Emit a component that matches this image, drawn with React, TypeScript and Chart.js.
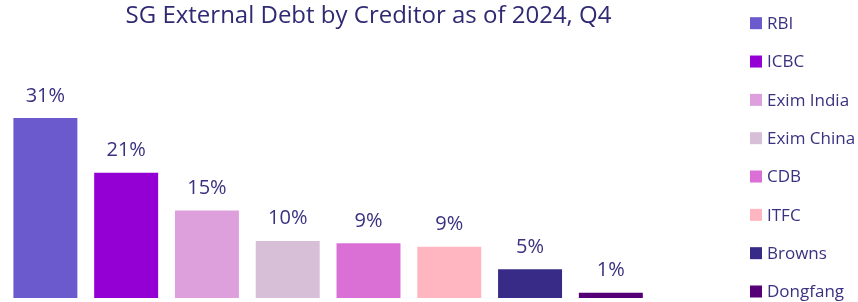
import React, { useEffect, useRef } from "react";
import { Chart, registerables } from "chart.js";

Chart.register(...registerables);

const TITLE = "SG External Debt by Creditor as of 2024, Q4";
const creditors = ["RBI", "ICBC", "Exim India", "Exim China", "CDB", "ITFC", "Browns", "Dongfang"];
const shares = [30.6, 21.3, 14.9, 9.7, 9.3, 8.7, 4.9, 0.9];
const barColors = ["#6a5acd", "#9400d3", "#dda0dd", "#d8bfd8", "#da70d6", "#ffb6c1", "#382b87", "#560078"];
// x-axis slots: the creditors plus one empty spacer slot on the right
const axisSlots = [...creditors, ""];

const FONT = "'Open Sans', 'Noto Sans', sans-serif";
const TEXT_COLOR = "#3a3180";

const valueLabels = {
  id: "valueLabels",
  afterDatasetsDraw(chart: any) {
    const ctx = chart.ctx;
    const meta = chart.getDatasetMeta(0);
    const data = chart.data.datasets[0].data as number[];
    ctx.save();
    ctx.font = `20px ${FONT}`;
    ctx.fillStyle = TEXT_COLOR;
    ctx.textAlign = "center";
    ctx.textBaseline = "alphabetic";
    meta.data.forEach((bar: any, i: number) => {
      ctx.fillText(`${Math.round(data[i])}%`, bar.x, bar.y - 16.5);
    });
    ctx.restore();
  },
};

const sideLegend = {
  id: "sideLegend",
  afterDraw(chart: any) {
    const ctx = chart.ctx;
    const labels = chart.data.labels as string[];
    const colors = chart.data.datasets[0].backgroundColor as string[];
    const x0 = chart.chartArea.right + 18;
    const y0 = 23.2;
    const step = 38.33;
    ctx.save();
    ctx.font = `17px ${FONT}`;
    ctx.textBaseline = "middle";
    ctx.textAlign = "left";
    labels.forEach((lab, i) => {
      const cy = y0 + i * step;
      ctx.fillStyle = colors[i];
      ctx.fillRect(x0, cy - 6, 12, 12);
      ctx.fillStyle = TEXT_COLOR;
      ctx.fillText(lab, x0 + 17, cy + 1);
    });
    ctx.restore();
  },
};

export default function App() {
  const ref = useRef<HTMLCanvasElement>(null);
  useEffect(() => {
    if (!ref.current) return;
    const chart = new Chart(ref.current, {
      type: "bar",
      data: {
        labels: creditors,
        datasets: [
          {
            data: shares,
            backgroundColor: barColors,
            borderWidth: 0,
            barPercentage: 0.792,
            categoryPercentage: 1,
          },
        ],
      },
      options: {
        responsive: false,
        animation: false,
        layout: { padding: { left: 5, right: 126, top: 0, bottom: 4 } },
        plugins: {
          legend: { display: false },
          tooltip: { enabled: false },
          title: {
            display: true,
            text: TITLE,
            fullSize: false,
            align: "center",
            color: "#2f2a72",
            font: { family: FONT, size: 24, weight: "normal" },
            padding: { top: 2, bottom: 2.6 },
          },
        },
        scales: {
          x: { display: false, labels: axisSlots, grid: { display: false } },
          y: { display: false, min: 0, max: 45, grid: { display: false } },
        },
      },
      plugins: [valueLabels, sideLegend],
    });
    return () => chart.destroy();
  }, []);
  return (
    <div style={{ position: "fixed", left: 0, top: 0, width: 858, height: 302, background: "#fff" }}>
      <canvas ref={ref} width={858} height={302} style={{ display: "block" }} />
    </div>
  );
}
